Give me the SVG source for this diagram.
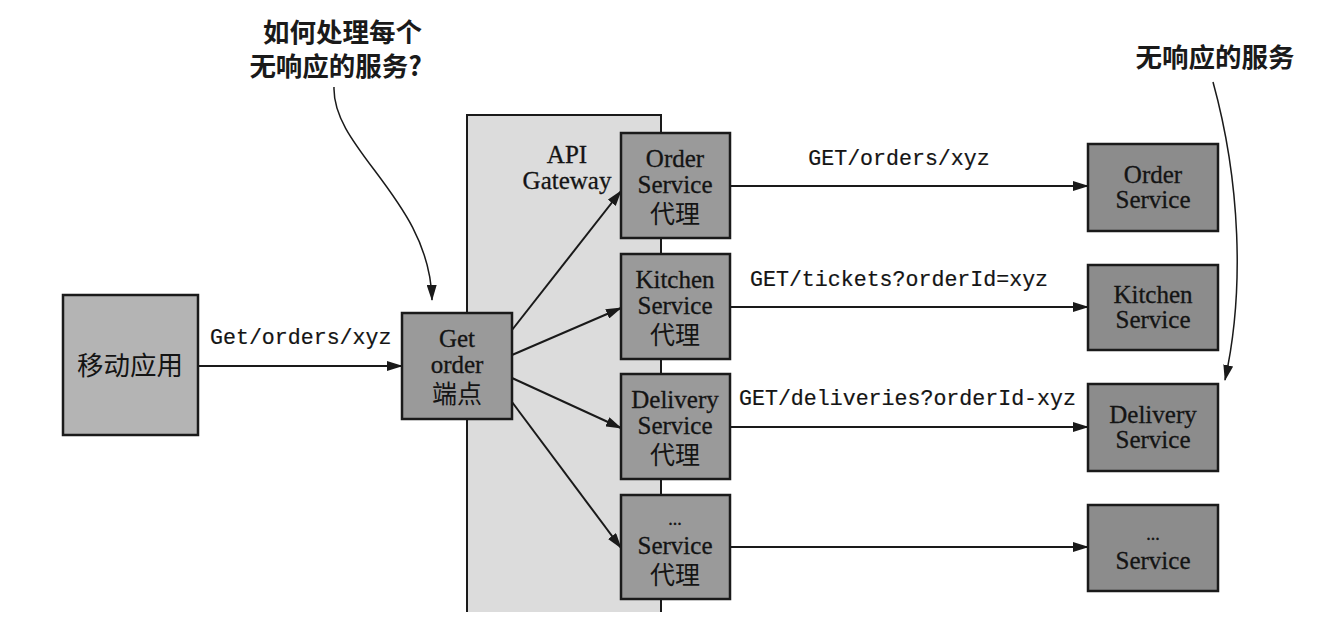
<svg xmlns="http://www.w3.org/2000/svg" width="1338" height="630" viewBox="0 0 1338 630">
<style>
.box{stroke:#1a1a1a;stroke-width:2.5}
.mob{fill:#b4b4b4}
.mid{fill:#9a9a9a}
.svc{fill:#8c8c8c}
.lbl{font-family:"Liberation Serif","Noto Sans CJK SC",serif;font-size:25px;fill:#141414;text-anchor:middle;stroke:#141414;stroke-width:0.3}
.cjk{font-family:"Noto Sans CJK SC",sans-serif;font-size:25px;fill:#141414;text-anchor:middle}
.mono{font-family:"Liberation Mono",monospace;font-size:21.6px;fill:#141414;stroke:#141414;stroke-width:0.2}
.note{font-family:"Noto Sans CJK SC",sans-serif;font-size:26.5px;font-weight:bold;fill:#1a1a1a}
.ln{stroke:#1a1a1a;stroke-width:2;fill:none}
.thin{stroke:#1a1a1a;stroke-width:1.5;fill:none}
</style>
<defs>
<marker id="ah" markerWidth="16" markerHeight="10" refX="15" refY="5" orient="auto" markerUnits="userSpaceOnUse">
<path d="M0,0 L16,5 L0,10 Z" fill="#1a1a1a"/>
</marker>
</defs>
<rect width="1338" height="630" fill="#ffffff"/>

<g id="gateway">
<rect x="467" y="115" width="194" height="497" fill="#dcdcdc"/>
<path d="M467,612 V115 H661 V612" class="ln"/>
<text class="lbl" x="567" y="163">API</text>
<text class="lbl" x="567" y="189">Gateway</text>
</g>

<g id="connectors">
<line x1="198" y1="366" x2="402" y2="366" class="ln" marker-end="url(#ah)"/>
<line x1="512" y1="330" x2="621" y2="191" class="ln" marker-end="url(#ah)"/>
<line x1="512" y1="355" x2="621" y2="308" class="ln" marker-end="url(#ah)"/>
<line x1="512" y1="378" x2="621" y2="428" class="ln" marker-end="url(#ah)"/>
<line x1="512" y1="402" x2="621" y2="548" class="ln" marker-end="url(#ah)"/>
<line x1="730" y1="186" x2="1088" y2="186" class="ln" marker-end="url(#ah)"/>
<line x1="730" y1="307" x2="1088" y2="307" class="ln" marker-end="url(#ah)"/>
<line x1="730" y1="427" x2="1088" y2="427" class="ln" marker-end="url(#ah)"/>
<line x1="730" y1="547" x2="1088" y2="547" class="ln" marker-end="url(#ah)"/>
<path d="M334,87 C332,150 430,200 432,300" class="thin" marker-end="url(#ah)"/>
<path d="M1213,82 C1240,180 1245,290 1225,380" class="thin" marker-end="url(#ah)"/>
<text class="mono" x="210" y="344">Get/orders/xyz</text>
<text class="mono" x="899" y="165" text-anchor="middle">GET/orders/xyz</text>
<text class="mono" x="750" y="286">GET/tickets?orderId=xyz</text>
<text class="mono" x="739" y="405">GET/deliveries?orderId-xyz</text>
</g>

<g id="mobile-app">
<rect x="63" y="295" width="135" height="140" class="box mob"/>
<text class="cjk" x="130" y="375" style="font-size:26.5px">移动应用</text>
</g>

<g id="get-order">
<rect x="402" y="313" width="110" height="106" class="box mid"/>
<text class="lbl" x="457" y="347">Get</text>
<text class="lbl" x="457" y="373">order</text>
<text class="cjk" x="457" y="403">端点</text>
</g>

<g id="order-proxy">
<rect x="621" y="133" width="109" height="105" class="box mid"/>
<text class="lbl" x="675" y="167">Order</text>
<text class="lbl" x="675" y="193">Service</text>
<text class="cjk" x="675" y="223">代理</text>
</g>

<g id="kitchen-proxy">
<rect x="621" y="254" width="109" height="105" class="box mid"/>
<text class="lbl" x="675" y="288">Kitchen</text>
<text class="lbl" x="675" y="314">Service</text>
<text class="cjk" x="675" y="344">代理</text>
</g>

<g id="delivery-proxy">
<rect x="621" y="374" width="109" height="105" class="box mid"/>
<text class="lbl" x="675" y="408">Delivery</text>
<text class="lbl" x="675" y="434">Service</text>
<text class="cjk" x="675" y="464">代理</text>
</g>

<g id="other-proxy">
<rect x="621" y="495" width="109" height="104" class="box mid"/>
<text class="lbl" x="675" y="525" style="font-size:18px">...</text>
<text class="lbl" x="675" y="554">Service</text>
<text class="cjk" x="675" y="584">代理</text>
</g>

<g id="order-service">
<rect x="1088" y="144" width="130" height="87" class="box svc"/>
<text class="lbl" x="1153" y="183">Order</text>
<text class="lbl" x="1153" y="208">Service</text>
</g>

<g id="kitchen-service">
<rect x="1088" y="265" width="130" height="85" class="box svc"/>
<text class="lbl" x="1153" y="303">Kitchen</text>
<text class="lbl" x="1153" y="328">Service</text>
</g>

<g id="delivery-service">
<rect x="1088" y="384" width="130" height="87" class="box svc"/>
<text class="lbl" x="1153" y="423">Delivery</text>
<text class="lbl" x="1153" y="448">Service</text>
</g>

<g id="other-service">
<rect x="1088" y="505" width="130" height="86" class="box svc"/>
<text class="lbl" x="1153" y="540" style="font-size:18px">...</text>
<text class="lbl" x="1153" y="569">Service</text>
</g>

<g id="note-left">
<text class="note" x="422" y="42" text-anchor="end">如何处理每个</text>
<text class="note" x="422" y="76" text-anchor="end">无响应的服务?</text>
</g>

<g id="note-right">
<text class="note" x="1215" y="67" text-anchor="middle">无响应的服务</text>
</g>
</svg>
